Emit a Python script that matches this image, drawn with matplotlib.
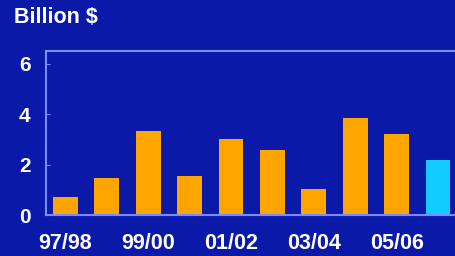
import matplotlib.pyplot as plt

years = ['97/98', '98/99', '99/00', '00/01', '01/02', '02/03', '03/04', '04/05', '05/06', '06/07']
values = [0.70, 1.48, 3.32, 1.53, 3.00, 2.60, 1.02, 3.86, 3.20, 2.20]
bar_colors = ['#ffa500'] * 9 + ['#11ccff']
yticks = [0, 2, 4, 6]

bg = '#0a19a8'
edge = '#7a8cff'

fig = plt.figure(figsize=(4.55, 2.56), dpi=100, facecolor=bg)
ax = fig.add_axes([0.101, 0.16, 0.899, 0.64], facecolor=bg)

x = range(len(years))
ax.bar(x, values, width=0.6, color=bar_colors)

ax.set_xlim(-0.47, 9.41)
ax.set_ylim(0, 6.5)
ax.set_yticks(yticks)
ax.set_yticklabels([str(t) for t in yticks])
ax.set_xticks(list(x)[::2])
ax.set_xticklabels(years[::2])

for s in ['left', 'top', 'bottom']:
    ax.spines[s].set_color(edge)
    ax.spines[s].set_linewidth(1.5)
ax.spines['right'].set_visible(False)

ax.tick_params(axis='y', direction='in', length=3, color=edge, pad=11,
               labelsize=15, labelcolor='white')
ax.tick_params(axis='x', length=0, pad=13, labelsize=15.5, labelcolor='white')
for lab in ax.get_xticklabels() + ax.get_yticklabels():
    lab.set_fontweight('bold')
    lab.set_fontfamily('Liberation Sans')

fig.text(0.031, 0.932, 'Billion $', color='white', fontsize=15.5, fontweight='bold',
         family='Liberation Sans', va='center', ha='left')

plt.savefig('out.png', dpi=100, facecolor=bg)
